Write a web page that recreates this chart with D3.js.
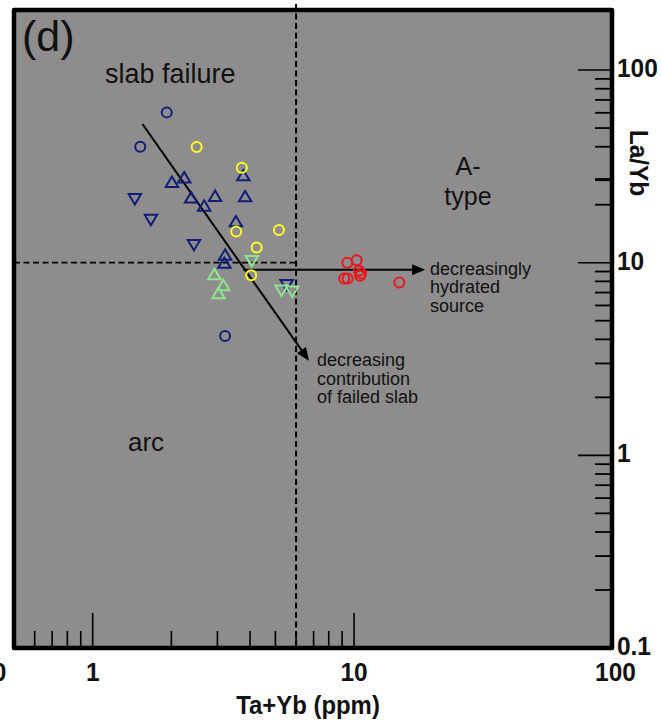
<!DOCTYPE html>
<html><head><meta charset="utf-8">
<script src="https://cdn.jsdelivr.net/npm/d3@7"></script>
<style>html,body{margin:0;padding:0;background:#fff;} svg{display:block;}</style>
</head><body>
<svg id="chart" width="661" height="721"></svg>
<script>
// Ta+Yb (ppm) against La/Yb discrimination diagram, panel (d)

// Sample groups: Ta+Yb (x) and La/Yb (y)
const navyCircleX = [1.92, 1.52, 3.21];
const navyCircleY = [60.3, 40.0, 4.16];
const yellowCircleX = [2.50, 3.72, 3.54, 5.16, 4.24, 4.04];
const yellowCircleY = [39.9, 31.1, 14.5, 14.8, 12.0, 8.6];
const navyUpX = [2.01, 2.24, 2.38, 2.94, 2.67, 3.77, 3.83, 3.53, 3.21, 3.19];
const navyUpY = [25.8, 27.2, 21.4, 21.8, 19.4, 27.9, 21.7, 16.1, 10.8, 9.8];
const navyDownX = [1.45, 1.67, 2.44, 5.52];
const navyDownY = [21.8, 17.0, 12.6, 7.81];
const greenUpX = [2.92, 3.16, 3.03];
const greenUpY = [8.56, 7.51, 6.82];
const greenDownX = [4.06, 5.28, 5.80];
const greenDownY = [10.4, 7.30, 7.22];
const redCircleX = [9.42, 10.23, 9.17, 9.45, 10.44, 10.63, 10.54, 14.9];
const redCircleY = [10.0, 10.3, 8.29, 8.29, 9.09, 8.80, 8.56, 7.90];

// Field boundaries
const boundaryX = 6;   // Ta+Yb
const boundaryY = 10;  // La/Yb

// Trend arrows: [x0, y0, x1, y1]
const slabArrow = [1.55, 52.5, 6.72, 3.10];
const hydrationArrow = [3.77, 9.2, 18.7, 9.2];

// Axes
const xDomain = [0.5, 97];
const yDomain = [0.1, 205];
const xMajorTicks = [1, 10];
const xMinorTicks = [0.6, 0.7, 0.8, 0.9, 2, 3, 4, 5, 6, 7, 8, 9];
const xLabelValues = [0.44, 1, 10, 100];
const xLabelTexts = ["0", "1", "10", "100"];
const yMajorTicks = [100, 10, 1];
const yMinorTicks = [90, 80, 70, 60, 50, 40, 20, 9, 8, 7, 6, 5, 4, 3, 2, 0.9, 0.8, 0.7, 0.6, 0.5, 0.4, 0.3, 0.2];
const yHeavyTicks = [27];
const yLabelValues = [100, 10, 1, 0.1];
const yLabelTexts = ["100", "10", "1", "0.1"];

const FONT = "'Liberation Sans', Arial, Helvetica, sans-serif";
const NAVY = "#0f1f78", YELLOW = "#ffff22", GREEN = "#8fe58f", RED = "#e8161f";

const frame = {left: 14, right: 612, top: 10, bottom: 648};
const svg = d3.select("#chart");

const x = d3.scaleLog().domain(xDomain).range([frame.left, frame.right]);
const y = d3.scaleLog().domain(yDomain).range([frame.bottom, frame.top]);

// plot background
svg.append("rect")
  .attr("x", frame.left).attr("y", frame.top)
  .attr("width", frame.right - frame.left).attr("height", frame.bottom - frame.top)
  .attr("fill", "#8e8c8d");

// dashed field boundaries
svg.append("line")
  .attr("x1", x(boundaryX)).attr("x2", x(boundaryX))
  .attr("y1", frame.top - 6).attr("y2", frame.bottom)
  .attr("stroke", "#000").attr("stroke-width", 2).attr("stroke-dasharray", "6,3.5");
svg.append("line")
  .attr("x1", frame.left).attr("x2", x(boundaryX))
  .attr("y1", y(boundaryY)).attr("y2", y(boundaryY))
  .attr("stroke", "#000").attr("stroke-width", 1.8).attr("stroke-dasharray", "6,3.5");

// trend arrows
function arrow(a) {
  const x0 = x(a[0]), y0 = y(a[1]), x1 = x(a[2]), y1 = y(a[3]);
  const ang = Math.atan2(y1 - y0, x1 - x0);
  const len = 13, half = 5.5;
  const bx = x1 - len * Math.cos(ang), by = y1 - len * Math.sin(ang);
  svg.append("line")
    .attr("x1", x0).attr("y1", y0).attr("x2", bx + 2 * Math.cos(ang)).attr("y2", by + 2 * Math.sin(ang))
    .attr("stroke", "#000").attr("stroke-width", 2);
  const px = -Math.sin(ang) * half, py = Math.cos(ang) * half;
  svg.append("path")
    .attr("d", d3.line()([[x1, y1], [bx + px, by + py], [bx - px, by - py]]) + "Z")
    .attr("fill", "#000");
}
arrow(slabArrow);
arrow(hydrationArrow);

// marker shapes
const triUp = {draw(ctx) {
  const w = 6.2, h = 10.4;
  ctx.moveTo(0, -h * 2 / 3); ctx.lineTo(w, h / 3); ctx.lineTo(-w, h / 3); ctx.closePath();
}};
const triDown = {draw(ctx) {
  const w = 6.2, h = 10.4;
  ctx.moveTo(0, h * 2 / 3); ctx.lineTo(w, -h / 3); ctx.lineTo(-w, -h / 3); ctx.closePath();
}};
const ring = {draw(ctx) { ctx.moveTo(5, 0); ctx.arc(0, 0, 5, 0, 2 * Math.PI); }};

function group(xs, ys, type, color) {
  const pts = xs.map((v, i) => [v, ys[i]]);
  svg.append("g").selectAll("path").data(pts).join("path")
    .attr("transform", d => `translate(${x(d[0])},${y(d[1])})`)
    .attr("d", d3.symbol().type(type)())
    .attr("fill", "none").attr("stroke", color).attr("stroke-width", 2);
}
group(navyCircleX, navyCircleY, ring, NAVY);
group(navyUpX, navyUpY, triUp, NAVY);
group(navyDownX, navyDownY, triDown, NAVY);
group(greenUpX, greenUpY, triUp, GREEN);
group(greenDownX, greenDownY, triDown, GREEN);
group(yellowCircleX, yellowCircleY, ring, YELLOW);
group(redCircleX, redCircleY, ring, RED);

// annotations
function label(txt, px, py, size, anchor) {
  svg.append("text").attr("x", px).attr("y", py)
    .attr("font-family", FONT).attr("font-size", size)
    .attr("text-anchor", anchor || "start").attr("fill", "#111").text(txt);
}
label("(d)", 22, 51, 43);
label("slab failure", 105, 83, 27);
label("A-", 468, 175, 25, "middle");
label("type", 468, 205, 25, "middle");
label("arc", 128, 451, 26);
label("decreasingly", 430, 274.5, 18);
label("hydrated", 430, 293, 18);
label("source", 430, 311.5, 18);
label("decreasing", 317, 366, 18);
label("contribution", 317, 384.5, 18);
label("of failed slab", 317, 403, 18);

// ticks
const tickG = svg.append("g").attr("stroke", "#000");
tickG.selectAll(".xmaj").data(xMajorTicks).join("line")
  .attr("x1", d => x(d)).attr("x2", d => x(d))
  .attr("y1", frame.bottom).attr("y2", frame.bottom - 35).attr("stroke-width", 1.6);
tickG.selectAll(".xmin").data(xMinorTicks).join("line")
  .attr("x1", d => x(d)).attr("x2", d => x(d))
  .attr("y1", frame.bottom).attr("y2", frame.bottom - 17).attr("stroke-width", 1.6);
tickG.selectAll(".ymaj").data(yMajorTicks).join("line")
  .attr("x1", frame.right).attr("x2", frame.right - 34)
  .attr("y1", d => y(d)).attr("y2", d => y(d)).attr("stroke-width", 1.6);
tickG.selectAll(".ymin").data(yMinorTicks).join("line")
  .attr("x1", frame.right).attr("x2", frame.right - 17)
  .attr("y1", d => y(d)).attr("y2", d => y(d)).attr("stroke-width", 1.8);
tickG.selectAll(".yheavy").data(yHeavyTicks).join("line")
  .attr("x1", frame.right).attr("x2", frame.right - 17)
  .attr("y1", d => y(d)).attr("y2", d => y(d)).attr("stroke-width", 3);

// frame
svg.append("rect")
  .attr("x", frame.left).attr("y", frame.top)
  .attr("width", frame.right - frame.left).attr("height", frame.bottom - frame.top)
  .attr("fill", "none").attr("stroke", "#000").attr("stroke-width", 4.5)
  .attr("stroke-linejoin", "round");

// tick labels
svg.append("g").selectAll("text").data(xLabelValues).join("text")
  .attr("transform", d => `translate(${x(d)},681) scale(0.94,1)`)
  .attr("text-anchor", "middle").attr("font-family", FONT).attr("font-weight", "bold")
  .attr("font-size", 26).attr("fill", "#111")
  .text((d, i) => xLabelTexts[i]);
svg.append("g").selectAll("text").data(yLabelValues).join("text")
  .attr("transform", d => `translate(617,${y(d) + 7}) scale(0.94,1)`)
  .attr("font-family", FONT).attr("font-weight", "bold")
  .attr("font-size", 26).attr("fill", "#111")
  .text((d, i) => yLabelTexts[i]);

// axis titles
svg.append("text").attr("transform", "translate(308,714) scale(0.92,1)")
  .attr("text-anchor", "middle").attr("font-family", FONT).attr("font-weight", "bold")
  .attr("font-size", 26).attr("fill", "#111").text("Ta+Yb (ppm)");
svg.append("text").attr("transform", "translate(630,163) rotate(90) scale(0.94,1)")
  .attr("text-anchor", "middle").attr("font-family", FONT).attr("font-weight", "bold")
  .attr("font-size", 26).attr("fill", "#111").text("La/Yb");
</script>
</body></html>
